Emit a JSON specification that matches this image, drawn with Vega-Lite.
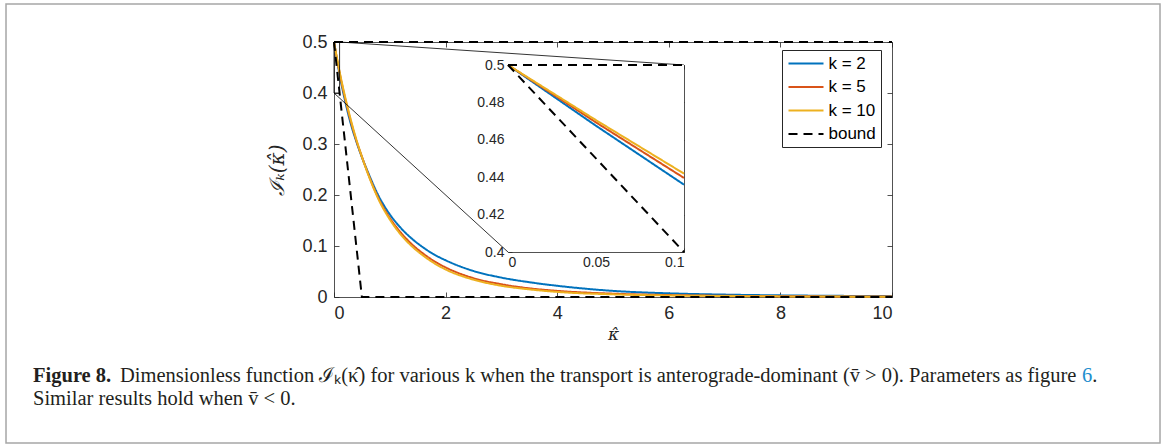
{
  "$schema": "https://vega.github.io/schema/vega-lite/v6.json",
  "width": 558,
  "height": 255,
  "autosize": {"type": "none"},
  "padding": {"left": 334, "top": 42, "right": 273, "bottom": 149},
  "background": "white",
  "config": {
    "view": {"stroke": null},
    "font": "Liberation Sans",
    "axis": {"grid": false, "labelFont": "Liberation Sans", "labelFontSize": 18, "labelColor": "#262626", "domainColor": "#262626", "tickColor": "#262626", "domainWidth": 0.8, "tickWidth": 0.8, "tickSize": -5, "labelPadding": 12, "titleFont": "DejaVu Serif", "titleFontWeight": "normal", "titleColor": "#262626", "titleFontSize": 17},
    "legend": {"orient": "none", "legendX": 448, "legendY": 8, "strokeColor": "#262626", "fillColor": "white", "padding": 5, "symbolType": "M-2.5,0H2.5", "symbolSize": 196, "symbolOffset": 10.5, "symbolStrokeWidth": 2, "labelFont": "Liberation Sans", "labelFontSize": 17, "labelColor": "#000000", "labelOffset": 14, "rowPadding": 5.5},
    "line": {"strokeWidth": 2}
  },
  "datasets": {
    "curves": [
      {"kappa": 0, "I": 0.5, "series": "k = 2"}, {"kappa": 0.1, "I": 0.436, "series": "k = 2"}, {"kappa": 0.2, "I": 0.384, "series": "k = 2"}, {"kappa": 0.3, "I": 0.340, "series": "k = 2"}, {"kappa": 0.4, "I": 0.305, "series": "k = 2"}, {"kappa": 0.5, "I": 0.274, "series": "k = 2"}, {"kappa": 0.6, "I": 0.247, "series": "k = 2"}, {"kappa": 0.8, "I": 0.198, "series": "k = 2"}, {"kappa": 1.0, "I": 0.162, "series": "k = 2"}, {"kappa": 1.2, "I": 0.135, "series": "k = 2"}, {"kappa": 1.4, "I": 0.114, "series": "k = 2"}, {"kappa": 1.6, "I": 0.097, "series": "k = 2"}, {"kappa": 1.8, "I": 0.083, "series": "k = 2"}, {"kappa": 2.0, "I": 0.072, "series": "k = 2"}, {"kappa": 2.5, "I": 0.051, "series": "k = 2"}, {"kappa": 3.0, "I": 0.038, "series": "k = 2"}, {"kappa": 3.5, "I": 0.029, "series": "k = 2"}, {"kappa": 4, "I": 0.022, "series": "k = 2"}, {"kappa": 5, "I": 0.012, "series": "k = 2"}, {"kappa": 6, "I": 0.0072, "series": "k = 2"}, {"kappa": 7, "I": 0.0047, "series": "k = 2"}, {"kappa": 8, "I": 0.0032, "series": "k = 2"}, {"kappa": 9, "I": 0.0023, "series": "k = 2"}, {"kappa": 10, "I": 0.0017, "series": "k = 2"},
      {"kappa": 0, "I": 0.5, "series": "k = 5"}, {"kappa": 0.1, "I": 0.4396, "series": "k = 5"}, {"kappa": 0.2, "I": 0.389, "series": "k = 5"}, {"kappa": 0.3, "I": 0.345, "series": "k = 5"}, {"kappa": 0.4, "I": 0.307, "series": "k = 5"}, {"kappa": 0.5, "I": 0.275, "series": "k = 5"}, {"kappa": 0.6, "I": 0.245, "series": "k = 5"}, {"kappa": 0.8, "I": 0.193, "series": "k = 5"}, {"kappa": 1.0, "I": 0.155, "series": "k = 5"}, {"kappa": 1.2, "I": 0.126, "series": "k = 5"}, {"kappa": 1.4, "I": 0.103, "series": "k = 5"}, {"kappa": 1.6, "I": 0.085, "series": "k = 5"}, {"kappa": 1.8, "I": 0.070, "series": "k = 5"}, {"kappa": 2.0, "I": 0.058, "series": "k = 5"}, {"kappa": 2.5, "I": 0.037, "series": "k = 5"}, {"kappa": 3.0, "I": 0.025, "series": "k = 5"}, {"kappa": 3.5, "I": 0.017, "series": "k = 5"}, {"kappa": 4, "I": 0.012, "series": "k = 5"}, {"kappa": 5, "I": 0.0065, "series": "k = 5"}, {"kappa": 6, "I": 0.0038, "series": "k = 5"}, {"kappa": 7, "I": 0.0024, "series": "k = 5"}, {"kappa": 8, "I": 0.0016, "series": "k = 5"}, {"kappa": 9, "I": 0.0011, "series": "k = 5"}, {"kappa": 10, "I": 0.0008, "series": "k = 5"},
      {"kappa": 0, "I": 0.5, "series": "k = 10"}, {"kappa": 0.1, "I": 0.442, "series": "k = 10"}, {"kappa": 0.2, "I": 0.392, "series": "k = 10"}, {"kappa": 0.3, "I": 0.348, "series": "k = 10"}, {"kappa": 0.4, "I": 0.309, "series": "k = 10"}, {"kappa": 0.5, "I": 0.275, "series": "k = 10"}, {"kappa": 0.6, "I": 0.244, "series": "k = 10"}, {"kappa": 0.8, "I": 0.191, "series": "k = 10"}, {"kappa": 1.0, "I": 0.152, "series": "k = 10"}, {"kappa": 1.2, "I": 0.122, "series": "k = 10"}, {"kappa": 1.4, "I": 0.099, "series": "k = 10"}, {"kappa": 1.6, "I": 0.081, "series": "k = 10"}, {"kappa": 1.8, "I": 0.066, "series": "k = 10"}, {"kappa": 2.0, "I": 0.054, "series": "k = 10"}, {"kappa": 2.5, "I": 0.034, "series": "k = 10"}, {"kappa": 3.0, "I": 0.022, "series": "k = 10"}, {"kappa": 3.5, "I": 0.015, "series": "k = 10"}, {"kappa": 4, "I": 0.010, "series": "k = 10"}, {"kappa": 5, "I": 0.0052, "series": "k = 10"}, {"kappa": 6, "I": 0.003, "series": "k = 10"}, {"kappa": 7, "I": 0.0019, "series": "k = 10"}, {"kappa": 8, "I": 0.0012, "series": "k = 10"}, {"kappa": 9, "I": 0.0008, "series": "k = 10"}, {"kappa": 10, "I": 0.0006, "series": "k = 10"}
    ],
    "bound": [
      {"kappa": 0, "I": 0.5, "series": "bound", "part": "lower"},
      {"kappa": 0.5, "I": 0, "series": "bound", "part": "lower"},
      {"kappa": 10, "I": 0, "series": "bound", "part": "lower"},
      {"kappa": 0, "I": 0.5, "series": "bound", "part": "upper"},
      {"kappa": 10, "I": 0.5, "series": "bound", "part": "upper"}
    ],
    "inset": [
      {"kappa": 0, "I": 0.5, "series": "k = 2"}, {"kappa": 0.05, "I": 0.4675, "series": "k = 2"}, {"kappa": 0.1, "I": 0.436, "series": "k = 2"},
      {"kappa": 0, "I": 0.5, "series": "k = 5"}, {"kappa": 0.05, "I": 0.4693, "series": "k = 5"}, {"kappa": 0.1, "I": 0.4396, "series": "k = 5"},
      {"kappa": 0, "I": 0.5, "series": "k = 10"}, {"kappa": 0.05, "I": 0.4705, "series": "k = 10"}, {"kappa": 0.1, "I": 0.4419, "series": "k = 10"}
    ],
    "insetBound": [
      {"kappa": 0, "I": 0.5, "series": "bound", "part": "lower"},
      {"kappa": 0.1, "I": 0.4, "series": "bound", "part": "lower"},
      {"kappa": 0, "I": 0.5, "series": "bound", "part": "upper"},
      {"kappa": 0.1, "I": 0.5, "series": "bound", "part": "upper"}
    ],
    "connectors": [
      {"x1": 0.1, "y1": 0.5, "x2": 6.272, "y2": 0.4549},
      {"x1": 0, "y1": 0.4, "x2": 3.118, "y2": 0.0882}
    ]
  },
  "layer": [
    {
      "layer": [
        {
          "data": {"values": [{}]},
          "mark": {"type": "rect", "fill": "transparent", "stroke": "#a6a6a6", "strokeWidth": 1.5},
          "encoding": {
            "x": {"datum": -5.878, "type": "quantitative", "scale": {"domain": [0, 10], "nice": false, "zero": false}, "axis": null},
            "x2": {"datum": 14.803},
            "y": {"datum": 0.5745, "type": "quantitative", "scale": {"domain": [0, 0.5], "nice": false, "zero": false}, "axis": null},
            "y2": {"datum": -0.2863}
          }
        },
        {
          "data": {"values": [{}]},
          "mark": {"type": "text", "font": "Liberation Serif", "fontSize": 20.5, "fontWeight": "bold", "align": "left", "baseline": "alphabetic", "color": "#231f20"},
          "encoding": {
            "x": {"datum": -5.394, "type": "quantitative", "scale": {"domain": [0, 10], "nice": false, "zero": false}, "axis": null},
            "y": {"datum": -0.1667, "type": "quantitative", "scale": {"domain": [0, 0.5], "nice": false, "zero": false}, "axis": null},
            "text": {"value": "Figure 8."}
          }
        },
        {
          "data": {"values": [{}]},
          "mark": {"type": "text", "font": "Liberation Serif", "fontSize": 20.5, "align": "left", "baseline": "alphabetic", "color": "#231f20"},
          "encoding": {
            "x": {"datum": -3.835, "type": "quantitative", "scale": {"domain": [0, 10], "nice": false, "zero": false}, "axis": null},
            "y": {"datum": -0.1667, "type": "quantitative", "scale": {"domain": [0, 0.5], "nice": false, "zero": false}, "axis": null},
            "text": {"value": "Dimensionless function \u2110\u2096(\u03ba\u0302) for various k when the transport is anterograde-dominant (v\u0304 > 0). Parameters as figure"}
          }
        },
        {
          "data": {"values": [{}]},
          "mark": {"type": "text", "font": "Liberation Serif", "fontSize": 20.5, "align": "left", "baseline": "alphabetic", "color": "#1f8fce"},
          "encoding": {
            "x": {"datum": 13.405, "type": "quantitative", "scale": {"domain": [0, 10], "nice": false, "zero": false}, "axis": null},
            "y": {"datum": -0.1667, "type": "quantitative", "scale": {"domain": [0, 0.5], "nice": false, "zero": false}, "axis": null},
            "text": {"value": "6"}
          }
        },
        {
          "data": {"values": [{}]},
          "mark": {"type": "text", "font": "Liberation Serif", "fontSize": 20.5, "align": "left", "baseline": "alphabetic", "color": "#231f20"},
          "encoding": {
            "x": {"datum": 13.589, "type": "quantitative", "scale": {"domain": [0, 10], "nice": false, "zero": false}, "axis": null},
            "y": {"datum": -0.1667, "type": "quantitative", "scale": {"domain": [0, 0.5], "nice": false, "zero": false}, "axis": null},
            "text": {"value": "."}
          }
        },
        {
          "data": {"values": [{}]},
          "mark": {"type": "text", "font": "Liberation Serif", "fontSize": 20.5, "align": "left", "baseline": "alphabetic", "color": "#231f20"},
          "encoding": {
            "x": {"datum": -5.394, "type": "quantitative", "scale": {"domain": [0, 10], "nice": false, "zero": false}, "axis": null},
            "y": {"datum": -0.2118, "type": "quantitative", "scale": {"domain": [0, 0.5], "nice": false, "zero": false}, "axis": null},
            "text": {"value": "Similar results hold when v\u0304 < 0."}
          }
        },
        {
          "data": {"name": "curves"},
          "mark": {"type": "line", "interpolate": "monotone", "strokeWidth": 2},
          "encoding": {
            "x": {"field": "kappa", "type": "quantitative", "scale": {"domain": [0, 10], "nice": false, "zero": false},
                  "axis": {"orient": "bottom", "values": [0, 2, 4, 6, 8, 10], "format": "d", "title": "\u03ba\u0302", "titleFontStyle": "italic", "titlePadding": 4}},
            "y": {"field": "I", "type": "quantitative", "scale": {"domain": [0, 0.5], "nice": false, "zero": false},
                  "axis": {"orient": "left", "values": [0, 0.1, 0.2, 0.3, 0.4, 0.5], "format": ".1~f", "title": "\u2110\u2096(\u03ba\u0302)", "titleFontStyle": "italic", "titleFontSize": 20, "titlePadding": 14}},
            "color": {"field": "series", "type": "nominal", "scale": {"domain": ["k = 2", "k = 5", "k = 10", "bound"], "range": ["#0072BD", "#D95319", "#EDB120", "#000000"]}, "legend": {"title": null}},
            "strokeDash": {"field": "series", "type": "nominal", "scale": {"domain": ["k = 2", "k = 5", "k = 10", "bound"], "range": [[1, 0], [1, 0], [1, 0], [9, 6]]}, "legend": {"title": null}}
          }
        },
        {
          "data": {"name": "bound"},
          "mark": {"type": "line", "strokeWidth": 2},
          "encoding": {
            "x": {"field": "kappa", "type": "quantitative", "scale": {"domain": [0, 10], "nice": false, "zero": false}, "axis": null},
            "y": {"field": "I", "type": "quantitative", "scale": {"domain": [0, 0.5], "nice": false, "zero": false}, "axis": null},
            "detail": {"field": "part"},
            "color": {"field": "series", "type": "nominal", "scale": {"domain": ["k = 2", "k = 5", "k = 10", "bound"], "range": ["#0072BD", "#D95319", "#EDB120", "#000000"]}, "legend": {"title": null}},
            "strokeDash": {"field": "series", "type": "nominal", "scale": {"domain": ["k = 2", "k = 5", "k = 10", "bound"], "range": [[1, 0], [1, 0], [1, 0], [9, 6]]}, "legend": {"title": null}}
          }
        },
        {
          "data": {"values": [{}]},
          "mark": {"type": "rect", "fill": "transparent", "stroke": "#000000", "strokeWidth": 0.8},
          "encoding": {
            "x": {"datum": 0, "type": "quantitative", "scale": {"domain": [0, 10], "nice": false, "zero": false}, "axis": null},
            "x2": {"datum": 0.1},
            "y": {"datum": 0.4, "type": "quantitative", "scale": {"domain": [0, 0.5], "nice": false, "zero": false}, "axis": null},
            "y2": {"datum": 0.5}
          }
        },
        {
          "data": {"name": "connectors"},
          "mark": {"type": "rule", "stroke": "#000000", "strokeWidth": 0.8},
          "encoding": {
            "x": {"field": "x1", "type": "quantitative", "scale": {"domain": [0, 10], "nice": false, "zero": false}, "axis": null},
            "x2": {"field": "x2"},
            "y": {"field": "y1", "type": "quantitative", "scale": {"domain": [0, 0.5], "nice": false, "zero": false}, "axis": null},
            "y2": {"field": "y2"}
          }
        },
        {
          "data": {"values": [{}]},
          "mark": {"type": "point", "opacity": 0},
          "encoding": {
            "x": {"datum": 0, "type": "quantitative", "scale": {"domain": [0, 10], "nice": false, "zero": false},
                  "axis": {"orient": "top", "values": [0, 2, 4, 6, 8, 10], "labels": false, "title": null}},
            "y": {"datum": 0, "type": "quantitative", "scale": {"domain": [0, 0.5], "nice": false, "zero": false},
                  "axis": {"orient": "right", "values": [0, 0.1, 0.2, 0.3, 0.4, 0.5], "labels": false, "title": null}}
          }
        }
      ],
      "resolve": {"axis": {"x": "independent", "y": "independent"}}
    },
    {
      "layer": [
        {
          "data": {"values": [{}]},
          "mark": {"type": "rect", "fill": "white", "stroke": null},
          "encoding": {
            "x": {"datum": 0, "type": "quantitative", "scale": {"domain": [0, 0.1], "range": [174, 350], "nice": false, "zero": false}, "axis": null},
            "x2": {"datum": 0.1},
            "y": {"datum": 0.4, "type": "quantitative", "scale": {"domain": [0.4, 0.5], "range": [210, 23], "nice": false, "zero": false}, "axis": null},
            "y2": {"datum": 0.5}
          }
        },
        {
          "data": {"name": "inset"},
          "mark": {"type": "line", "strokeWidth": 2},
          "encoding": {
            "x": {"field": "kappa", "type": "quantitative", "scale": {"domain": [0, 0.1], "range": [174, 350], "nice": false, "zero": false},
                  "axis": {"orient": "bottom", "offset": -45, "values": [0, 0.05, 0.1], "format": ".2~f", "title": null, "labelFontSize": 14, "tickSize": -4, "labelPadding": 7}},
            "y": {"field": "I", "type": "quantitative", "scale": {"domain": [0.4, 0.5], "range": [210, 23], "nice": false, "zero": false},
                  "axis": {"orient": "left", "offset": -174, "values": [0.4, 0.42, 0.44, 0.46, 0.48, 0.5], "format": ".2~f", "title": null, "labelFontSize": 14, "tickSize": -4, "labelPadding": 8}},
            "color": {"field": "series", "type": "nominal", "scale": {"domain": ["k = 2", "k = 5", "k = 10", "bound"], "range": ["#0072BD", "#D95319", "#EDB120", "#000000"]}, "legend": {"title": null}},
            "strokeDash": {"field": "series", "type": "nominal", "scale": {"domain": ["k = 2", "k = 5", "k = 10", "bound"], "range": [[1, 0], [1, 0], [1, 0], [9, 6]]}, "legend": {"title": null}}
          }
        },
        {
          "data": {"name": "insetBound"},
          "mark": {"type": "line", "strokeWidth": 2},
          "encoding": {
            "x": {"field": "kappa", "type": "quantitative", "scale": {"domain": [0, 0.1], "range": [174, 350], "nice": false, "zero": false}, "axis": null},
            "y": {"field": "I", "type": "quantitative", "scale": {"domain": [0.4, 0.5], "range": [210, 23], "nice": false, "zero": false}, "axis": null},
            "detail": {"field": "part"},
            "color": {"field": "series", "type": "nominal", "scale": {"domain": ["k = 2", "k = 5", "k = 10", "bound"], "range": ["#0072BD", "#D95319", "#EDB120", "#000000"]}, "legend": {"title": null}},
            "strokeDash": {"field": "series", "type": "nominal", "scale": {"domain": ["k = 2", "k = 5", "k = 10", "bound"], "range": [[1, 0], [1, 0], [1, 0], [9, 6]]}, "legend": {"title": null}}
          }
        },
        {
          "data": {"values": [{}]},
          "mark": {"type": "point", "opacity": 0},
          "encoding": {
            "x": {"datum": 0, "type": "quantitative", "scale": {"domain": [0, 0.1], "range": [174, 350], "nice": false, "zero": false},
                  "axis": {"orient": "top", "offset": -23, "values": [0, 0.05, 0.1], "labels": false, "title": null, "tickSize": -4}},
            "y": {"datum": 0.4, "type": "quantitative", "scale": {"domain": [0.4, 0.5], "range": [210, 23], "nice": false, "zero": false},
                  "axis": {"orient": "right", "offset": -208, "values": [0.4, 0.42, 0.44, 0.46, 0.48, 0.5], "labels": false, "title": null, "tickSize": -4}}
          }
        }
      ],
      "resolve": {"axis": {"x": "independent", "y": "independent"}}
    }
  ],
  "resolve": {"scale": {"x": "independent", "y": "independent"}}
}
